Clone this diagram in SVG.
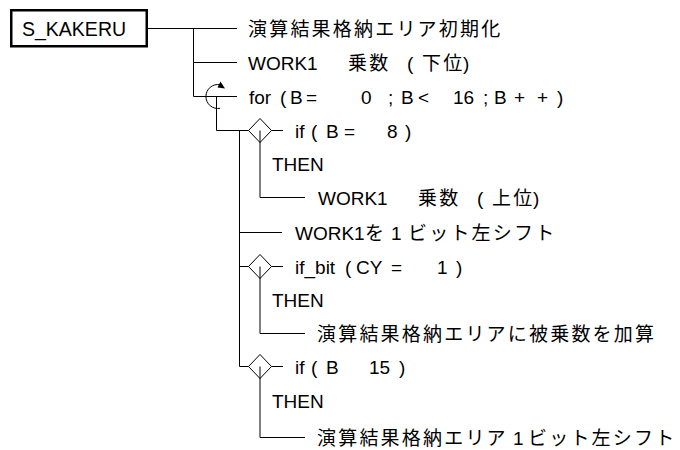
<svg xmlns="http://www.w3.org/2000/svg" width="680" height="450" viewBox="0 0 680 450">
<style>
.t{font-family:"Liberation Sans",Arial,"Noto Sans CJK JP",sans-serif;font-size:19px;fill:#000}
.j{font-family:"Noto Sans CJK JP","Noto Sans CJK SC",sans-serif;letter-spacing:2.2px}
.ln{stroke:#000;stroke-width:1;fill:none}
.dm{stroke:#000;stroke-width:1;fill:#fff}
</style>
<rect width="680" height="450" fill="#fff"/>
<g id="connectors">
<path class="ln" d="M147 28.5H237M193.5 28.5V96.5M193.5 62.5H237M193.5 96.5H237"/>
<path class="ln" d="M216.5 96.5V130.5H248.5M239.5 130.5V366.5M271.5 130.5H283M260 130.5V197.5H305"/>
<path class="ln" d="M239.5 232.5H282M239.5 266.5H248.5M271.5 266.5H283M260 266.5V333.5H305"/>
<path class="ln" d="M239.5 366.5H248.5M271.5 366.5H283M260 366.5V437.5H305"/>
</g>
<g id="root">
<rect x="11.25" y="10.25" width="135.5" height="36" fill="#fff" stroke="#000" stroke-width="2.5"/>
<text class="t" x="22" y="35.5" style="font-size:19.5px">S_KAKERU</text>
</g>
<g id="n1"><text class="t" y="35.5"><tspan class="j" x="248">演算結果格納エリア初期化</tspan></text></g>
<g id="n2"><text class="t" y="69.5"><tspan x="248">WORK1</tspan><tspan class="j" x="348">乗数</tspan><tspan x="407">(</tspan><tspan class="j" x="422">下位</tspan><tspan x="463">)</tspan></text></g>
<g id="n3">
<path class="ln" d="M220.1 84.7A12 12 0 1 0 220.1 108.3"/>
<polygon points="225,88.5 217.5,87.5 220.5,81.5" fill="#000"/>
<text class="t" y="103.5"><tspan x="249">for</tspan><tspan x="280">(</tspan><tspan x="290">B</tspan><tspan x="306">=</tspan><tspan x="361">0</tspan><tspan x="388">;</tspan><tspan x="401">B</tspan><tspan x="418">&lt;</tspan><tspan x="453">16</tspan><tspan x="483">;</tspan><tspan x="494">B</tspan><tspan x="514">+</tspan><tspan x="537">+</tspan><tspan x="557">)</tspan></text>
</g>
<g id="n4">
<polygon class="dm" points="248.5,130.5 260,118.5 271.5,130.5 260,142.5"/>
<path class="ln" d="M260 130.5V142.5"/>
<text class="t" y="137.5"><tspan x="295">if</tspan><tspan x="311">(</tspan><tspan x="326">B</tspan><tspan x="344">=</tspan><tspan x="387">8</tspan><tspan x="405">)</tspan></text>
<text class="t" x="272" y="171">THEN</text>
</g>
<g id="n5"><text class="t" y="204.5"><tspan x="318">WORK1</tspan><tspan class="j" x="418">乗数</tspan><tspan x="477">(</tspan><tspan class="j" x="492">上位</tspan><tspan x="533">)</tspan></text></g>
<g id="n6"><text class="t" y="239.5"><tspan x="295">WORK1</tspan><tspan class="j" x="365">を</tspan><tspan x="391">1</tspan><tspan class="j" x="408">ビット左シフト</tspan></text></g>
<g id="n7">
<polygon class="dm" points="248.5,266.5 260,254.5 271.5,266.5 260,278.5"/>
<path class="ln" d="M260 266.5V278.5"/>
<text class="t" y="273.5"><tspan x="295">if_bit</tspan><tspan x="345">(</tspan><tspan x="356">CY</tspan><tspan x="391">=</tspan><tspan x="437">1</tspan><tspan x="456">)</tspan></text>
<text class="t" x="272" y="307">THEN</text>
</g>
<g id="n8"><text class="t" y="340.5"><tspan class="j" x="317">演算結果格納エリアに被乗数を加算</tspan></text></g>
<g id="n9">
<polygon class="dm" points="248.5,366.5 260,354.5 271.5,366.5 260,378.5"/>
<path class="ln" d="M260 366.5V378.5"/>
<text class="t" y="373.5"><tspan x="295">if</tspan><tspan x="311">(</tspan><tspan x="326">B</tspan><tspan x="369">15</tspan><tspan x="399">)</tspan></text>
<text class="t" x="272" y="408">THEN</text>
</g>
<g id="n10"><text class="t" y="444.5"><tspan class="j" x="317">演算結果格納エリア</tspan><tspan x="513">1</tspan><tspan class="j" x="528">ビット左シフト</tspan></text></g>
</svg>
